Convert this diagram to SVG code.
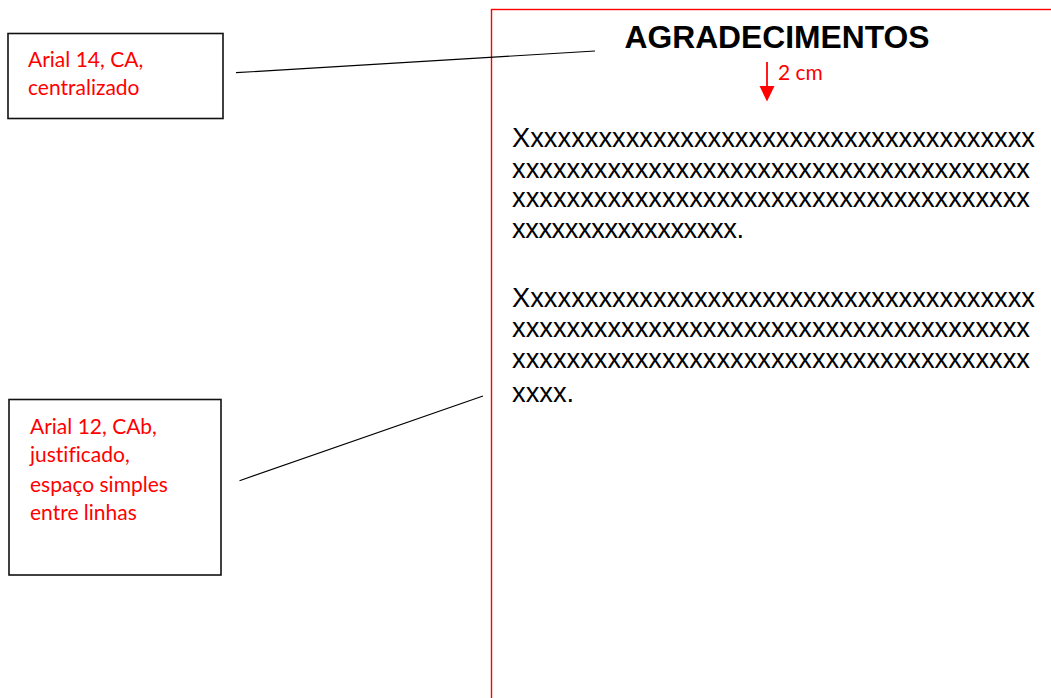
<svg xmlns="http://www.w3.org/2000/svg" width="1051" height="698" viewBox="0 0 1051 698">
<style>
.box{fill:#fff;stroke:#111;stroke-width:1.6}
.lbl{font-family:Lato,"Open Sans",sans-serif;font-size:21px;fill:#ff0000;font-variant-ligatures:none}
.body{font-family:"Liberation Sans",Arial,sans-serif;font-size:27.3px;fill:#000}
.conn{stroke:#000;stroke-width:1.2;fill:none}
</style>
<rect width="1051" height="698" fill="#fff"/>
<g id="page">
<rect x="491.5" y="9.5" width="600" height="700" fill="none" stroke="#ff0000" stroke-width="1.4"/>
<text x="777" y="48" text-anchor="middle" font-family="'Liberation Sans',Arial,sans-serif" font-weight="bold" font-size="31.8" fill="#000">AGRADECIMENTOS</text>
<line x1="767" y1="62" x2="767" y2="88" stroke="#ff0000" stroke-width="1.8"/>
<polygon points="759.5,86 774.5,86 767,101.5" fill="#ff0000"/>
<text class="lbl" x="778" y="80">2 cm</text>
<text class="body" x="512" y="147" textLength="523" lengthAdjust="spacing">Xxxxxxxxxxxxxxxxxxxxxxxxxxxxxxxxxxxxxx</text>
<text class="body" x="512" y="177.5" textLength="518" lengthAdjust="spacing">xxxxxxxxxxxxxxxxxxxxxxxxxxxxxxxxxxxxxx</text>
<text class="body" x="512" y="207" textLength="518" lengthAdjust="spacing">xxxxxxxxxxxxxxxxxxxxxxxxxxxxxxxxxxxxxx</text>
<text class="body" x="512" y="237.5" textLength="232" lengthAdjust="spacing">xxxxxxxxxxxxxxxxx.</text>
<text class="body" x="512" y="306.5" textLength="523" lengthAdjust="spacing">Xxxxxxxxxxxxxxxxxxxxxxxxxxxxxxxxxxxxxx</text>
<text class="body" x="512" y="337" textLength="518" lengthAdjust="spacing">xxxxxxxxxxxxxxxxxxxxxxxxxxxxxxxxxxxxxx</text>
<text class="body" x="512" y="367.5" textLength="518" lengthAdjust="spacing">xxxxxxxxxxxxxxxxxxxxxxxxxxxxxxxxxxxxxx</text>
<text class="body" x="512" y="402">xxxx.</text>
</g>
<g id="box1">
<rect class="box" x="8" y="33.5" width="215" height="85"/>
<text class="lbl" x="28" y="66.5">Arial 14, CA,</text>
<text class="lbl" x="28" y="95">centralizado</text>
</g>
<g id="box2">
<rect class="box" x="9" y="399.5" width="212" height="175.5"/>
<text class="lbl" x="30" y="433.5">Arial 12, CAb,</text>
<text class="lbl" x="30" y="462">justificado,</text>
<text class="lbl" x="30" y="491.5">espaço simples</text>
<text class="lbl" x="30" y="519.5">entre linhas</text>
</g>
<g id="connectors">
<line class="conn" x1="236" y1="72.7" x2="595" y2="51"/>
<line class="conn" x1="239.5" y1="480.7" x2="483" y2="396"/>
</g>
</svg>
